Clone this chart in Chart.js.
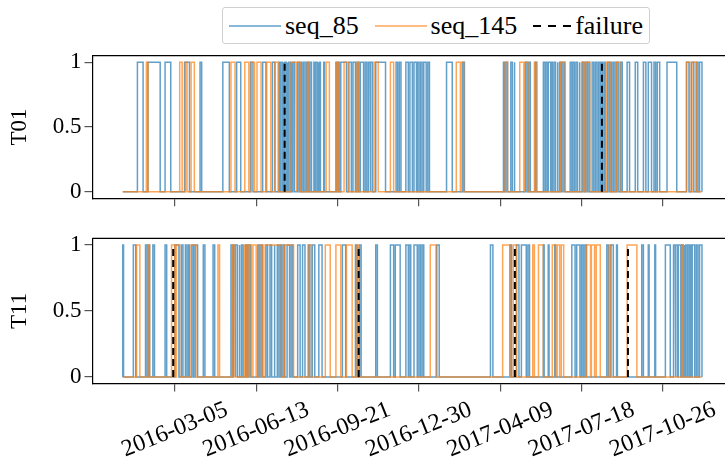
<!DOCTYPE html>
<html>
<head>
<meta charset="utf-8">
<script src="https://cdn.jsdelivr.net/npm/chart.js@4.4.1/dist/chart.umd.min.js"></script>
<style>
  html, body { margin: 0; padding: 0; background: #fff; overflow: hidden; }
  #wrap { position: relative; width: 725px; height: 469px; }
  canvas { position: absolute; left: 0; }
  #legend {
    position: absolute; left: 222px; top: 7px; width: 428px; height: 37px;
    box-sizing: border-box; padding: 0 6px 0 6px;
    border: 1px solid #d0d0d0; border-radius: 3px; background: #fff;
    display: flex; align-items: center; justify-content: space-between; white-space: nowrap;
    font-family: "Liberation Serif", serif; font-size: 26px; color: #000;
  }
  #legend .item { display: flex; align-items: center; }
  #legend svg { margin-right: 4px; }
</style>
</head>
<body>
<div id="wrap">
  <div id="legend"></div>
  <canvas id="t01" width="725" height="215" style="top:0"></canvas>
  <canvas id="t11" width="725" height="254" style="top:215px"></canvas>
</div>
<script>
// ---- data -------------------------------------------------------------
// Day offsets are counted from seriesStart. Each pair is a run where the
// sensor flag is 1; outside the runs the flag is 0.
const seriesStart = '2016-01-01';
const seriesEnd = '2017-12-13';

const t01Seq85 = [[18,25],[31,46],[52,59],[76,82],[95,97],[123,131],[140,145],[157,160],[172,176],[184,187],
  [192,193],[194,196],[197,198],[199,201],[202,203],[204,206],[207,208],[209,211],[215,217],[219,220],[222,224],
  [226,228],[230,232],[235,236],[237,239],[240,241],[242,243],[247,248],[262,263],[265,266],[268,275],[278,281],
  [283,286],[288,290],[292,296],[298,300],[302,304],[305,307],[311,323],[336,338],[340,342],[348,351],[353,356],
  [358,361],[362,364],[366,368],[370,373],[375,377],[398,405],[418,420],[468,469],[471,473],[477,479],[481,482],
  [495,497],[499,501],[507,509],[517,519],[520,522],[523,526],[527,528],[530,532],[534,535],[537,539],[541,543],
  [550,552],[553,555],[557,559],[561,562],[565,567],[569,571],[573,574],[577,579],[581,583],[585,587],[588,590],
  [592,593],[596,598],[600,601],[603,605],[607,609],[612,614],[620,623],[630,633],[640,643],[646,650],[653,655],
  [657,660],[669,681],[693,696],[699,702],[705,707],[709,712]];
const t01Seq145 = [[29,31],[70,73],[77,79],[84,88],[133,138],[150,155],[158,162],[165,170],[177,182],[187,191],
  [207,213],[214,218],[227,229],[250,254],[263,265],[272,277],[288,290],[309,314],[329,333],[410,415],[416,419],
  [470,473],[488,493],[494,498],[506,508],[538,544],[564,567],[569,574],[595,599],[607,611],[693,697],[701,705]];
const t01Failures = ['2016-07-18', '2017-08-12'];

const t11Seq85 = [[0,1],[13,16],[28,30],[32,33],[37,39],[52,54],[64,69],[72,74],[77,79],[81,82],[85,87],[89,92],
  [99,101],[111,113],[133,135],[136,138],[139,141],[143,144],[146,148],[151,153],[155,157],[166,168],[170,172],
  [176,178],[181,183],[186,187],[190,192],[194,195],[197,199],[202,205],[207,209],[215,218],[221,224],[228,230],
  [233,236],[241,245],[270,274],[286,288],[291,293],[311,313],[329,333],[335,341],[348,351],[352,354],[358,362],
  [364,366],[368,370],[386,389],[452,455],[476,478],[484,487],[490,496],[498,500],[517,518],[523,524],[531,532],
  [552,556],[558,562],[564,566],[568,570],[595,597],[600,603],[607,608],[638,640],[646,647],[654,655],[667,673],
  [677,679],[680,682],[683,686],[687,689],[690,691],[692,694],[695,697],[698,699],[700,703],[705,707],[709,712]];
const t11Seq145 = [[17,21],[31,33],[60,64],[66,70],[84,90],[117,119],[135,138],[150,152],[154,158],[160,164],
  [168,172],[175,195],[199,210],[229,232],[249,255],[262,268],[275,282],[288,290],[378,385],[467,476],[480,484],
  [504,506],[511,517],[528,532],[534,537],[539,542],[570,575],[576,580],[582,587],[598,600],[620,632],[687,689]];
const t11Failures = ['2016-03-03', '2016-10-17', '2017-04-27', '2017-09-13'];

const xTickLabels = ['2016-03-05', '2016-06-13', '2016-09-21', '2016-12-30', '2017-04-09', '2017-07-18', '2017-10-26'];
const yTickValues = [0, 0.5, 1];
const yTickLabels = ['0', '0.5', '1'];

// ---- helpers ----------------------------------------------------------
const DAY_MS = 86400000;
const toUTC = s => { const [y, m, d] = s.split('-').map(Number); return Date.UTC(y, m - 1, d); };
const T0 = toUTC(seriesStart);
const dayOf = s => (toUTC(s) - T0) / DAY_MS;
const LAST = dayOf(seriesEnd);
const xTickValues = xTickLabels.map(dayOf);

function stepSeries(runs) {
  const pts = [{ x: 0, y: 0 }];
  for (const [a, b] of runs) {
    pts.push({ x: a, y: 0 }, { x: a, y: 1 }, { x: b, y: 1 }, { x: b, y: 0 });
  }
  pts.push({ x: LAST, y: 0 });
  return pts;
}
function failureLines(dates) {
  const pts = [];
  for (const s of dates) {
    const d = dayOf(s);
    pts.push({ x: d, y: 0 }, { x: d, y: 1 }, { x: d, y: null });
  }
  return pts;
}

// ---- styling ----------------------------------------------------------
const BLUE = 'rgba(31,119,180,0.7)';
const ORANGE = 'rgba(255,127,14,0.7)';
const FONT = '"Liberation Serif", serif';
const Y_FONT = 23;
const X_FONT = 24;
const X_ROT = 22;

const topSpine = {
  id: 'topSpine',
  afterDraw(chart) {
    const { ctx, chartArea: a } = chart;
    ctx.save();
    ctx.strokeStyle = '#000';
    ctx.lineWidth = 1.2;
    ctx.beginPath();
    ctx.moveTo(a.left, a.top);
    ctx.lineTo(a.right, a.top);
    ctx.stroke();
    ctx.restore();
  }
};

// Shift rotated date labels so each one is centred on its tick.
const measure = document.createElement('canvas').getContext('2d');
measure.font = `${X_FONT}px ${FONT}`;
const labelShift = measure.measureText(xTickLabels[0]).width * Math.cos(X_ROT * Math.PI / 180) / 2;

function makeChart(id, name, seq85, seq145, failures, showDates, padTop, xAxisHeight) {
  return new Chart(document.getElementById(id), {
    type: 'line',
    data: {
      datasets: [
        { label: 'failure', data: failureLines(failures), borderColor: '#000', borderWidth: 2,
          borderDash: [7, 4], spanGaps: false, order: 0 },
        { label: 'seq_145', data: stepSeries(seq145), borderColor: ORANGE, borderWidth: 1.5, order: 1 },
        { label: 'seq_85', data: stepSeries(seq85), borderColor: BLUE, borderWidth: 1.5, order: 2 }
      ]
    },
    options: {
      responsive: false,
      devicePixelRatio: 1,
      animation: false,
      events: [],
      layout: { padding: { top: padTop, right: 0, bottom: 0, left: 0 } },
      elements: { point: { radius: 0 }, line: { tension: 0, fill: false, borderJoinStyle: 'miter' } },
      plugins: { legend: { display: false }, tooltip: { enabled: false } },
      scales: {
        x: {
          type: 'linear',
          min: -37.2,
          max: 740.3,
          afterBuildTicks: s => { s.ticks = xTickValues.map(v => ({ value: v })); },
          afterFit: s => { s.height = xAxisHeight; },
          grid: { drawOnChartArea: false, drawTicks: true, tickLength: 8, color: '#555', lineWidth: 1.2 },
          border: { display: true, color: '#000', width: 1.2 },
          ticks: {
            display: showDates,
            autoSkip: false,
            minRotation: X_ROT,
            maxRotation: X_ROT,
            labelOffset: labelShift,
            padding: 4,
            color: '#000',
            font: { family: FONT, size: X_FONT },
            callback: (v, i) => xTickLabels[i]
          }
        },
        y: {
          min: -0.05,
          max: 1.05,
          afterBuildTicks: s => { s.ticks = yTickValues.map(v => ({ value: v })); },
          afterFit: s => { s.width = 92.5; },
          grid: { drawOnChartArea: false, drawTicks: true, tickLength: 8, color: '#555', lineWidth: 1.2 },
          border: { display: true, color: '#000', width: 1.2 },
          ticks: {
            padding: 3,
            color: '#000',
            font: { family: FONT, size: Y_FONT },
            callback: (v, i) => yTickLabels[i]
          },
          title: {
            display: true, text: name, color: '#000',
            font: { family: FONT, size: Y_FONT },
            padding: { top: 6, bottom: 0 }
          }
        }
      }
    },
    plugins: [topSpine]
  });
}

makeChart('t01', 'T01', t01Seq85, t01Seq145, t01Failures, false, 55.7, 15);
makeChart('t11', 'T11', t11Seq85, t11Seq145, t11Failures, true, 23.3, 85.4);

// ---- legend -----------------------------------------------------------
const legendItems = [
  { text: 'seq_85', color: BLUE, dash: '' },
  { text: 'seq_145', color: ORANGE, dash: '' },
  { text: 'failure', color: '#000', dash: '8 7' }
];
const legend = document.getElementById('legend');
for (const it of legendItems) {
  const el = document.createElement('span');
  el.className = 'item';
  const w = it.dash ? 38 : 52;
  el.innerHTML =
    `<svg width="${w}" height="10"><line x1="0" y1="5" x2="${w}" y2="5" stroke="${it.color}" ` +
    `stroke-width="${it.dash ? 2 : 1.5}" ${it.dash ? `stroke-dasharray="${it.dash}"` : ''}/></svg>`;
  const t = document.createElement('span');
  t.textContent = it.text;
  el.appendChild(t);
  legend.appendChild(el);
}
</script>
</body>
</html>
